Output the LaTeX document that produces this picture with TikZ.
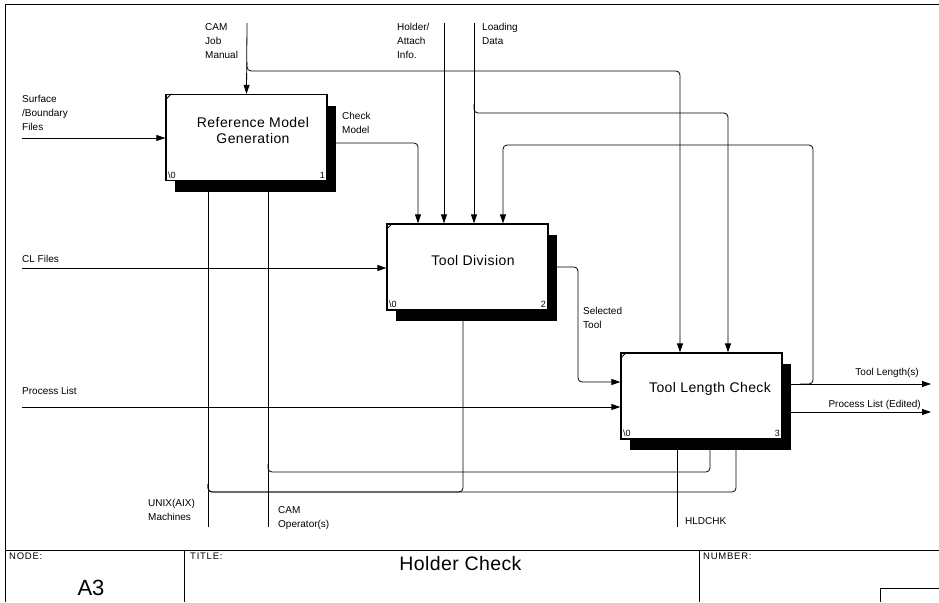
\documentclass[tikz,border=0pt]{standalone}
\usepackage{fontspec}
\setmainfont{Liberation Sans}
\usetikzlibrary{arrows.meta, calc, shadows}

\begin{document}
\begin{tikzpicture}[
  x=1pt, y=-1pt,
  box/.style={draw, line width=1.3pt, fill=white, minimum width=161pt,
    minimum height=86pt, inner sep=0pt,
    drop shadow={shadow xshift=9pt, shadow yshift=-11pt, fill=black, opacity=1}},
  boxtext/.style={align=center, inner sep=0pt,
    font=\addfontfeature{LetterSpace=3}\fontsize{14}{16}\selectfont},
  tag/.style={inner sep=2.5pt, font=\fontsize{9}{9}\selectfont},
  arrow/.style={-{Triangle[length=9pt, width=6pt]}, line width=0.8pt,
    rounded corners=4pt},
  lbl/.style={align=left, inner sep=0pt, font=\fontsize{10}{14}\selectfont},
  hdr/.style={inner sep=0pt, font=\addfontfeature{LetterSpace=8}\fontsize{9.5}{10}\selectfont},
  frame/.style={line width=1pt}
]
\useasboundingbox (0,0) rectangle (939,602);

\node[box] (rmg) at (246.5,137.5) {};
\node[boxtext] (rmgtext) at (253,130) {Reference Model\\Generation};
\node[box] (tdiv) at (467.5,267) {};
\node[boxtext] (tdivtext) at (473,260) {Tool Division};
\node[box] (tlc) at (701.5,396) {};
\node[boxtext] (tlctext) at (710,389) {Tool Length Check};

\foreach \b/\n in {rmg/1, tdiv/2, tlc/3} {
  \draw[line width=0.8pt] ([yshift=-6pt]\b.north west) -- ([xshift=6pt]\b.north west);
  \node[tag, anchor=south west] (\b zero) at (\b.south west) {\textbackslash 0};
  \node[tag, anchor=south east] (\b num) at (\b.south east) {\n};
}

% controls
\coordinate (jm) at (247,23);
\coordinate (jmsplit) at (247,62);
\draw[arrow] (jm) -- (rmg.north);
\draw[arrow] (jmsplit) |- (680,71) -- (tlc.north -| 680,71);
\coordinate (hold) at (444,23);
\draw[arrow] (hold) -- (hold |- tdiv.north);
\coordinate (load) at (474,23);
\coordinate (loadsplit) at (474,104);
\draw[arrow] (load) -- (load |- tdiv.north);
\draw[arrow] (loadsplit) |- (728,113) -- (tlc.north -| 728,113);
\draw[arrow] (rmg.east |- 0,143) -| (tdiv.north -| 418,0);
\coordinate (fbsplit) at (800,384);
\draw[arrow] (fbsplit) -| (813,145) -| (tdiv.north -| 503,0);

% inputs
\coordinate (surf) at (22,138);
\draw[arrow] (surf) -- (surf -| rmg.west);
\coordinate (cl) at (22,268);
\draw[arrow] (cl) -- (cl -| tdiv.west);
\coordinate (proc) at (22,407);
\draw[arrow] (proc) -- (proc -| tlc.west);
\draw[arrow] (tdiv.east) -| (578,382) -- (tlc.west |- 0,382);

% outputs
\coordinate (tlen) at (931,384);
\draw[arrow] (tlc.east |- tlen) -- (tlen);
\coordinate (pedit) at (931,412);
\draw[arrow] (tlc.east |- pedit) -- (pedit);

% mechanisms
\coordinate (unix) at (208,527);
\coordinate (unixsplit) at (208,484);
\draw[arrow] (unix) -- (unix |- rmg.south);
\draw[arrow] (unixsplit) |- (463,492) -- (tdiv.south -| 463,0);
\draw[arrow] (unixsplit) |- (736,492) -- (tlc.south -| 736,0);
\coordinate (camop) at (268,527);
\coordinate (camopsplit) at (268,464);
\draw[arrow] (camop) -- (camop |- rmg.south);
\draw[arrow] (camopsplit) |- (710,472) -- (tlc.south -| 710,0);
\coordinate (hld) at (677,527);
\draw[arrow] (hld) -- (hld |- tlc.south);

% labels
\node[lbl, anchor=north west] (jmlbl) at (205,23) {CAM\\Job\\Manual};
\node[lbl, anchor=north west] (holdlbl) at (397,23) {Holder/\\Attach\\Info.};
\node[lbl, anchor=north west] (loadlbl) at (482,23) {Loading\\Data};
\node[lbl, anchor=north west] (surflbl) at (22,95) {Surface\\/Boundary\\Files};
\node[lbl, anchor=north west] (cmlbl) at (342,112) {Check\\Model};
\node[lbl, anchor=base west] (cllbl) at (22,262) {CL Files};
\node[lbl, anchor=base west] (proclbl) at (22,394) {Process List};
\node[lbl, anchor=north west] (stlbl) at (583,307) {Selected\\Tool};
\node[lbl, anchor=base east] (tlenlbl) at (919,375) {Tool Length(s)};
\node[lbl, anchor=base east] (peditlbl) at (921,407) {Process List (Edited)};
\node[lbl, anchor=north west] (unixlbl) at (148,499) {UNIX(AIX)\\Machines};
\node[lbl, anchor=north west] (camoplbl) at (278,506) {CAM\\Operator(s)};
\node[lbl, anchor=north west] (hldlbl) at (685,517) {HLDCHK};

% frame and title block
\draw[frame] (5,602) -- (5,5) -- (939,5);
\draw[frame] (5,550) -- (939,550);
\draw[frame] (184,550) -- (184,602);
\draw[frame] (699,550) -- (699,602);
\draw[frame] (880,602) |- (939,588);
\node[hdr, anchor=north west] (nodehdr) at (9,553) {NODE:};
\node[hdr, anchor=north west] (titlehdr) at (190,553) {TITLE:};
\node[hdr, anchor=north west] (numhdr) at (703,553) {NUMBER:};
\node[inner sep=0pt, anchor=base, font=\fontsize{22}{22}\selectfont] (nodeid) at (91,595) {A3};
\node[inner sep=0pt, anchor=base, font=\addfontfeature{LetterSpace=2}\fontsize{19.5}{20}\selectfont] (title) at (460.5,570) {Holder Check};
\end{tikzpicture}
\end{document}
